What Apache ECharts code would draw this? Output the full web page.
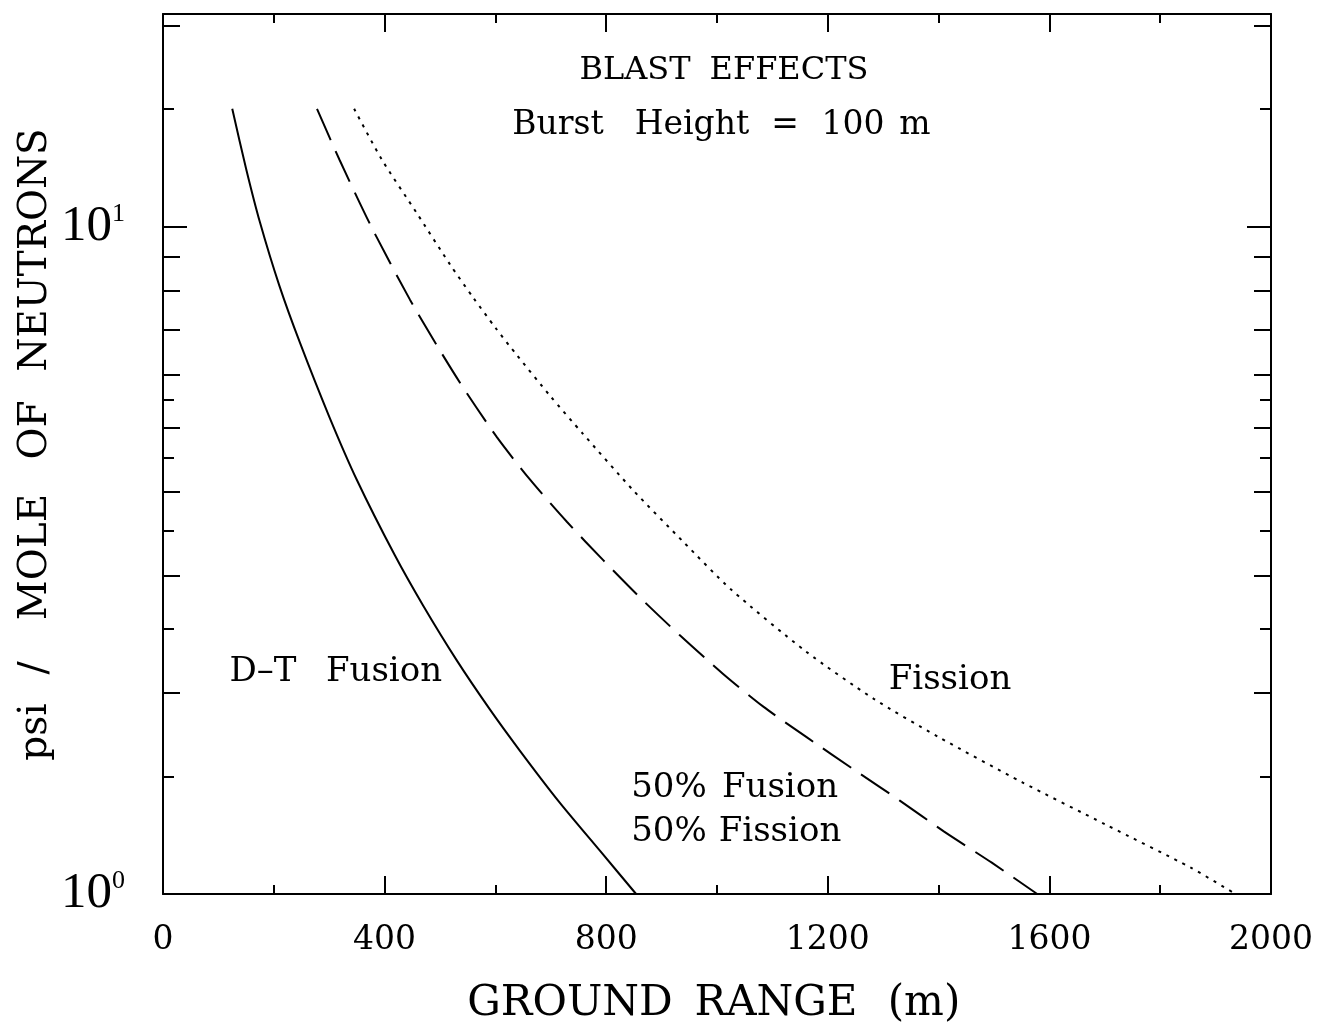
<!DOCTYPE html>
<html><head><meta charset="utf-8">
<script src="https://cdn.jsdelivr.net/npm/echarts@6/dist/echarts.min.js"></script>
<style>html,body{margin:0;padding:0;background:#fff}#c{width:1319px;height:1034px}</style>
</head><body><div id="c"></div>
<script>
// ---- data (ground range m, psi per mole of neutrons) ----
const dtFusion = [[125,15],[150,12.2],[175,10.14],[210,8.15],[247,6.70],[300,5.19],[350,4.17],[419,3.21],[470,2.70],[530,2.24],[590,1.89],[644,1.64],[715,1.374],[789,1.16],[854,1.0]];
const halfHalf = [[278,15],[319,12.56],[377,9.95],[446,7.76],[494,6.64],[542,5.73],[603,4.83],[663,4.17],[729,3.61],[795,3.16],[863,2.77],[933,2.44],[1010,2.14],[1083,1.91],[1165,1.71],[1250,1.53],[1330,1.38],[1410,1.24],[1496,1.114],[1578,1.0]];
const fission = [[345,15],[395,12.59],[458,10.47],[518,8.77],[560,7.82],[600,7.05],[639,6.41],[699,5.57],[758,4.89],[848,4.03],[939,3.37],[1025,2.86],[1160,2.31],[1283,1.96],[1399,1.72],[1551,1.47],[1702,1.27],[1856,1.094],[1936,1.0]];
const yMajorTicks = [1, 10];
const yMidTicks = [2, 3, 4, 5, 6, 7, 8, 9, 20];
const yMinorTicks = [1.5, 2.5, 3.5, 4.5, 5.5, 15];
const xMin = 0, xMax = 2000, xStep = 400;
const yMin = 1, yMax = 20.8;

const SERIF = '"DejaVu Serif", serif';
const BLK = '#000';

function yAxis(pos, ticks, len, showLine, showLabel) {
  return {
    type: 'log', logBase: 10, min: yMin, max: yMax, position: pos,
    axisLine: { show: showLine, onZero: false, lineStyle: { color: BLK, width: 2 } },
    axisTick: { show: true, inside: true, length: len, customValues: ticks, lineStyle: { color: BLK, width: 2 } },
    axisLabel: showLabel ? {
      show: true, customValues: yMajorTicks, margin: 38,
      formatter: v => '{a|10}{b|' + Math.round(Math.log10(v)) + '}',
      rich: {
        a: { fontFamily: '"Liberation Serif", serif', fontSize: 51, color: BLK },
        b: { fontFamily: '"Liberation Serif", serif', fontSize: 26, color: BLK, verticalAlign: 'top' }
      }
    } : { show: false },
    splitLine: { show: false }, minorTick: { show: false }, minorSplitLine: { show: false }
  };
}
function xAxis(pos, showLabel) {
  return {
    type: 'value', min: xMin, max: xMax, interval: xStep, position: pos,
    axisLine: { show: true, onZero: false, lineStyle: { color: BLK, width: 2 } },
    axisTick: { show: true, inside: true, length: 18, lineStyle: { color: BLK, width: 2 } },
    minorTick: { show: true, splitNumber: 2, length: 9, lineStyle: { color: BLK, width: 2 } },
    axisLabel: showLabel ? { show: true, margin: 30, fontFamily: SERIF, fontSize: 33, color: BLK, formatter: v => String(v) } : { show: false },
    splitLine: { show: false }, minorSplitLine: { show: false }
  };
}

function word(text, cx, cy, size, rot) {
  return {
    type: 'text', x: cx, y: cy, rotation: rot || 0, silent: true,
    style: { text: text, fill: BLK, font: size + 'px ' + SERIF, align: 'center', verticalAlign: 'middle' }
  };
}

const texts = [
  ['BLAST', 635, 71, 32], ['EFFECTS', 789, 71, 32],
  ['Burst', 558, 125, 33], ['Height', 692, 125, 33], ['=', 785, 125, 33], ['100', 853, 125, 33], ['m', 915, 125, 33],
  ['D\u2013T', 263, 672, 34], ['Fusion', 384, 672, 34],
  ['Fission', 950, 680, 34],
  ['50%', 669, 788, 34], ['Fusion', 780, 788, 34],
  ['50%', 669, 832, 34], ['Fission', 780, 832, 34],
  ['GROUND', 570, 1004, 42], ['RANGE', 776, 1004, 42], ['(m)', 924, 1004, 42]
];
const yTitle = [['psi', 732], ['/', 668], ['MOLE', 557], ['OF', 430], ['NEUTRONS', 250]];

const graphics = texts.map(t => word(t[0], t[1], t[2], t[3]))
  .concat(yTitle.map(t => word(t[0], 36, t[1], 39, Math.PI / 2)));

function line(data, type, width) {
  return {
    type: 'line', data: data, xAxisIndex: 0, yAxisIndex: 0, showSymbol: false, symbol: 'none',
    smooth: 0.25, silent: true, animation: false,
    lineStyle: { color: BLK, width: width, type: type }
  };
}

const chart = echarts.init(document.getElementById('c'), null, { renderer: 'canvas' });
chart.setOption({
  animation: false,
  backgroundColor: '#fff',
  grid: { left: 163, right: 48, top: 14, bottom: 140, show: false },
  xAxis: [xAxis('bottom', true), xAxis('top', false)],
  yAxis: [
    yAxis('left', yMajorTicks, 24, true, true),
    yAxis('left', yMidTicks, 17, false, false),
    yAxis('left', yMinorTicks, 11, false, false),
    yAxis('right', yMajorTicks, 24, true, false),
    yAxis('right', yMidTicks, 17, false, false),
    yAxis('right', yMinorTicks, 11, false, false)
  ],
  series: [
    line(dtFusion, 'solid', 2),
    line(halfHalf, [34, 12], 2),
    line(fission, [3, 6], 2)
  ],
  graphic: graphics
});
</script>
</body></html>
